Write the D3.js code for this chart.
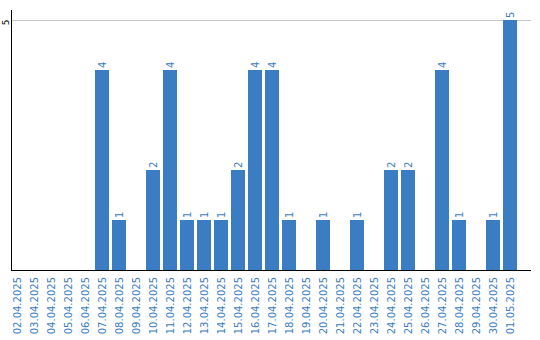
<!DOCTYPE html>
<html>
<head>
<meta charset="utf-8">
<script src="https://cdn.jsdelivr.net/npm/d3@7"></script>
<style>
    body { margin: 0; background: #fff; }
    svg text { font-family: "DejaVu Sans", Verdana, sans-serif; }
</style>
</head>
<body>
<div id="barChart"></div>
<script>
const dates = [
    '02.04.2025', '03.04.2025', '04.04.2025', '05.04.2025', '06.04.2025',
    '07.04.2025', '08.04.2025', '09.04.2025', '10.04.2025', '11.04.2025',
    '12.04.2025', '13.04.2025', '14.04.2025', '15.04.2025', '16.04.2025',
    '17.04.2025', '18.04.2025', '19.04.2025', '20.04.2025', '21.04.2025',
    '22.04.2025', '23.04.2025', '24.04.2025', '25.04.2025', '26.04.2025',
    '27.04.2025', '28.04.2025', '29.04.2025', '30.04.2025', '01.05.2025'
];
const counts = [0, 0, 0, 0, 0, 4, 1, 0, 2, 4, 1, 1, 1, 2, 4, 4, 1, 0, 1, 0, 1, 0, 2, 2, 0, 4, 1, 0, 1, 5];
const yTicks = [5];

const barColor = '#3b7dc2';

const drawBarChart = () => {
    const width = 540;
    const height = 340;
    const left = 11;
    const right = 531;
    const top = 10;
    const bottom = 270;

    const svg = d3.select('#barChart')
        .append('svg')
            .attr('width', width)
            .attr('height', height);

    const data = dates.map((d, i) => ({date: d, value: counts[i]}));

    // scales
    const x = d3.scaleBand()
        .domain(dates)
        .range([10, 517])
        .paddingInner(3 / 17)
        .paddingOuter(0);

    const y = d3.scaleLinear()
        .domain([0, 5])
        .range([bottom, 20]);

    // gridlines
    svg.append('g')
        .selectAll('line')
        .data(yTicks)
        .join('line')
            .attr('x1', left)
            .attr('x2', right)
            .attr('y1', d => y(d) + 0.5)
            .attr('y2', d => y(d) + 0.5)
            .attr('stroke', '#c8c8c8')
            .attr('stroke-width', 1);

    // bars
    svg.append('g')
        .selectAll('rect')
        .data(data.filter(d => d.value > 0))
        .join('rect')
            .attr('x', d => x(d.date))
            .attr('y', d => y(d.value))
            .attr('width', x.bandwidth())
            .attr('height', d => y(0) - y(d.value))
            .attr('fill', barColor);

    // value labels
    svg.append('g')
        .selectAll('text')
        .data(data.filter(d => d.value > 0))
        .join('text')
            .attr('transform', d => `translate(${x(d.date) + x.bandwidth() / 2 + 3.5},${y(d.value) - 2}) rotate(-90)`)
            .attr('fill', barColor)
            .style('font-size', '10px')
            .text(d => d.value);

    // y axis (tick groups are already translated to y(d))
    const yAxis = svg.append('g')
        .attr('transform', `translate(${left + 0.5},0)`)
        .call(d3.axisLeft(y).tickValues(yTicks).tickFormat(d3.format('d')).tickSize(0).tickPadding(0));
    yAxis.select('.domain').remove();
    yAxis.selectAll('text')
        .attr('x', 0)
        .attr('y', 0)
        .attr('dy', null)
        .attr('transform', 'translate(-3,2) rotate(-90)')
        .attr('text-anchor', 'middle')
        .attr('fill', '#000')
        .style('font-size', '9px');
    svg.append('line')
        .attr('x1', left + 0.5)
        .attr('x2', left + 0.5)
        .attr('y1', top)
        .attr('y2', bottom + 1)
        .attr('stroke', '#000')
        .attr('stroke-width', 1);

    // x axis
    const xAxis = svg.append('g')
        .attr('transform', `translate(0,${bottom})`)
        .call(d3.axisBottom(x).tickSize(0).tickPadding(0));
    xAxis.select('.domain').remove();
    xAxis.selectAll('text')
        .attr('y', 0)
        .attr('dy', null)
        .attr('transform', 'translate(4,7) rotate(-90)')
        .attr('text-anchor', 'end')
        .attr('fill', barColor)
        .style('font-size', '10px');
    svg.append('line')
        .attr('x1', left)
        .attr('x2', right)
        .attr('y1', bottom + 0.5)
        .attr('y2', bottom + 0.5)
        .attr('stroke', '#000')
        .attr('stroke-width', 1);
};

drawBarChart();
</script>
</body>
</html>
